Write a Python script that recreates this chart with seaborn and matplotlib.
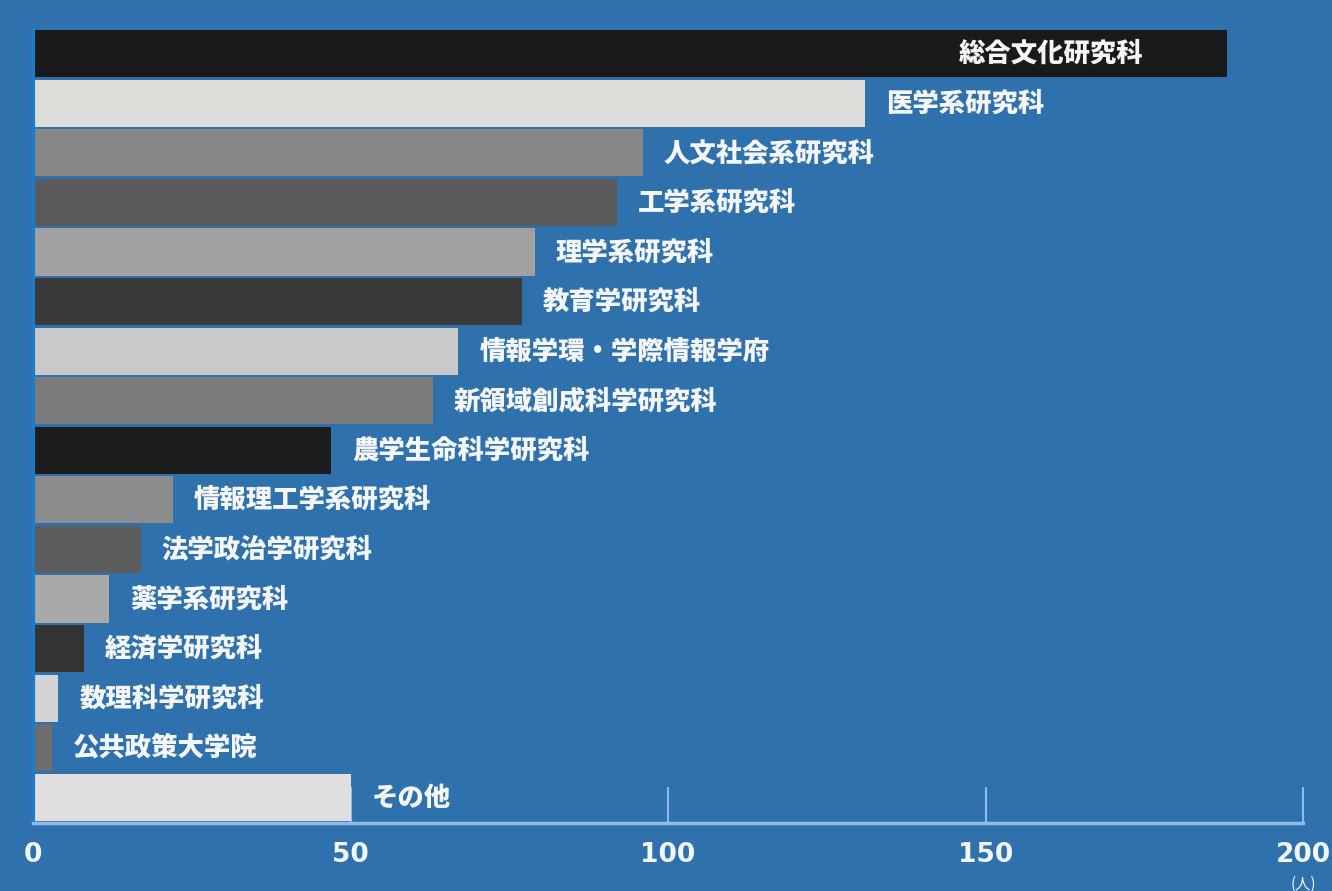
import matplotlib
matplotlib.use("Agg")
import matplotlib.pyplot as plt
import seaborn as sns
import pandas as pd

categories = ["総合文化研究科", "医学系研究科", "人文社会系研究科", "工学系研究科",
              "理学系研究科", "教育学研究科", "情報学環・学際情報学府", "新領域創成科学研究科",
              "農学生命科学研究科", "情報理工学系研究科", "法学政治学研究科", "薬学系研究科",
              "経済学研究科", "数理科学研究科", "公共政策大学院", "その他"]
values = [188, 131, 96, 92, 79, 77, 67, 63, 47, 22, 17, 12, 8, 4, 3, 50]
bar_colors = ["#1a1a1c", "#dcdcd8", "#878787", "#5b5b5b", "#a1a1a1", "#3a3a3a",
              "#c9c9c9", "#7b7b7b", "#1c1c1c", "#8c8c8c", "#5d5d5d", "#a9a9a9",
              "#343434", "#d4d4d4", "#6d6d6d", "#e0dede"]
xticks = [0, 50, 100, 150, 200]
unit_label = "(人)"

BG = "#2e71ad"
AXIS = "#8dbbe3"

sns.set_theme(style="white")
plt.rcParams["font.family"] = ["Noto Sans CJK JP", "DejaVu Sans"]

df = pd.DataFrame({"cat": categories, "val": values})

fig = plt.figure(figsize=(13.32, 8.91), dpi=100)
fig.patch.set_facecolor(BG)
ax = fig.add_axes([33 / 1332, 68 / 891, 1270 / 1332, 795 / 891])
ax.set_facecolor(BG)
ax.set_axisbelow(True)

sns.barplot(data=df, y="cat", x="val", hue="cat", palette=bar_colors,
            orient="h", width=0.95, legend=False, ax=ax, saturation=1,
            linewidth=0, edgecolor="none")

ax.set_xlim(0, 200)
ax.set_ylim(len(categories) - 0.5 + 0.02, -0.5 - 0.02)
ax.set_xlabel("")
ax.set_ylabel("")
ax.set_yticks([])
ax.set_xticks(xticks)
ax.set_xticklabels([str(t) for t in xticks], fontsize=19, fontweight="bold",
                   color="#f2f6fa", family=["DejaVu Sans"])
ax.tick_params(axis="x", bottom=True, direction="in", length=26, width=1.5,
               color=AXIS, pad=14)

for s in ["top", "right"]:
    ax.spines[s].set_visible(False)
ax.spines["bottom"].set_color(AXIS)
ax.spines["bottom"].set_linewidth(2.5)
ax.spines["bottom"].set_zorder(3)
ax.spines["left"].set_color("#1d7cc4")
ax.spines["left"].set_linewidth(3)

for i, (c, v) in enumerate(zip(categories, values)):
    if i == 0:
        ax.annotate(c, xy=(v, i), xytext=(-60, 0), textcoords="offset points",
                    ha="right", va="center", fontsize=19, fontweight="heavy",
                    color="#f4f4f0")
    else:
        ax.annotate(c, xy=(v, i), xytext=(15, 0), textcoords="offset points",
                    ha="left", va="center", fontsize=19, fontweight="heavy",
                    color="#f4f6fa")

ax.annotate(unit_label, xy=(200, 0), xycoords=("data", "axes fraction"),
            xytext=(0, -44), textcoords="offset points", ha="center", va="center",
            fontsize=11, color="#f2f6fa", annotation_clip=False)

fig.savefig("out.png", dpi=100, facecolor=BG)
